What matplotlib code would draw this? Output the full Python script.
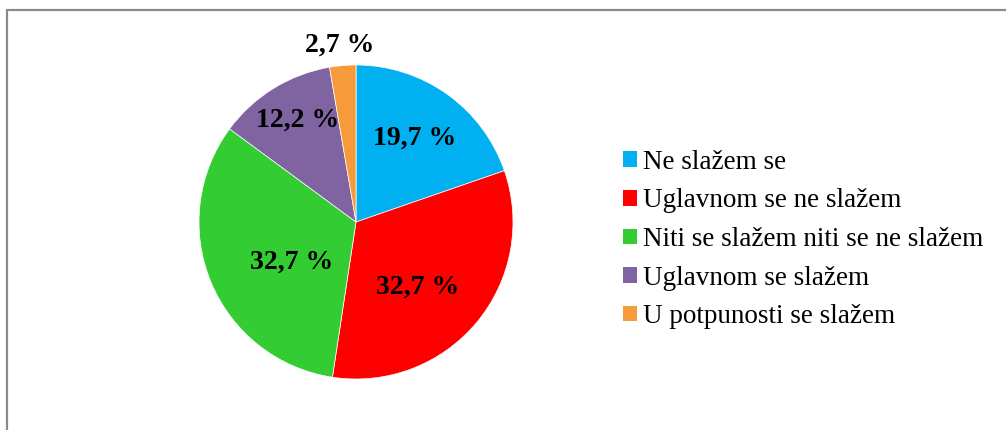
import numpy as np
import matplotlib
matplotlib.use("Agg")
import matplotlib.pyplot as plt
from matplotlib.lines import Line2D
from matplotlib.patches import Patch

categories = ["Ne slažem se", "Uglavnom se ne slažem",
              "Niti se slažem niti se ne slažem", "Uglavnom se slažem",
              "U potpunosti se slažem"]
values = [19.7, 32.7, 32.7, 12.2, 2.7]
labels = ["19,7 %", "32,7 %", "32,7 %", "12,2 %", "2,7 %"]

COLORS = ["#00B0F0", "#FF0000", "#33CC33", "#8064A2", "#F79A3B"]
# per-slice label placement (radius fraction, angle shift in deg), Excel "best fit"
LABEL_R = [0.65, 0.57, 0.48, 0.75, 1.13]
LABEL_SHIFT = [0.4, -7.0, 9.5, -1.7, 0.3]

plt.rcParams["font.family"] = ["Liberation Serif", "DejaVu Serif"]

W, H = 1006, 430
fig = plt.figure(figsize=(W / 100, H / 100), dpi=100)

# pie: centre (356, 222) px, radius 157 px
cx, cy, r = 356, 222, 157
ax = fig.add_axes([(cx - r) / W, (H - cy - r) / H, 2 * r / W, 2 * r / H])
wedges, _ = ax.pie(values, colors=COLORS, startangle=90, counterclock=False,
                   wedgeprops=dict(edgecolor="white", linewidth=0.5))
ax.set_xlim(-1, 1)
ax.set_ylim(-1, 1)
ax.set_aspect("equal")

for w, lab, lr, sh in zip(wedges, labels, LABEL_R, LABEL_SHIFT):
    mid = np.deg2rad((w.theta1 + w.theta2) / 2 + sh)
    ax.text(lr * np.cos(mid), lr * np.sin(mid), lab, ha="center", va="center",
            fontsize=20, fontweight="bold", color="black")

handles = [Patch(facecolor=c, edgecolor="none") for c in COLORS]
fig.legend(handles, categories, loc="center left",
           bbox_to_anchor=(623 / W, 1 - 239.5 / H), frameon=False,
           fontsize=19.5, handlelength=0.52, handleheight=0.52,
           handletextpad=0.22, labelspacing=0.5, borderpad=0, borderaxespad=0)

# chart-area frame (cropped on right and bottom)
fig.add_artist(Line2D([6.5 / W, 6.5 / W, 1], [0, 1 - 10 / H, 1 - 10 / H],
                      transform=fig.transFigure, color="#8a8a8a", lw=1.6))

fig.savefig("out.png", dpi=100)
